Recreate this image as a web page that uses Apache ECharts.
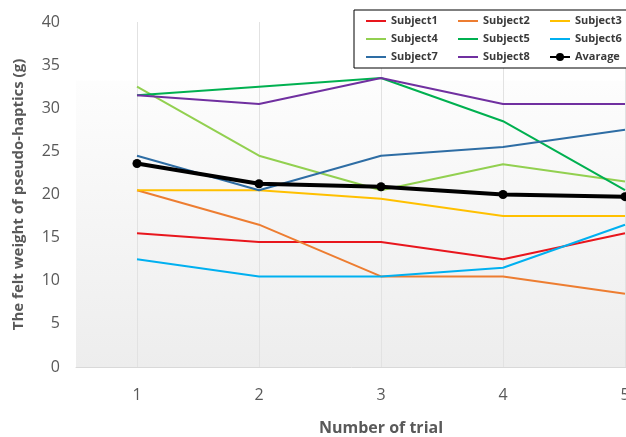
<!DOCTYPE html>
<html><head><meta charset="utf-8">
<script src="https://cdn.jsdelivr.net/npm/echarts@6/dist/echarts.min.js"></script>
<style>html,body{margin:0;padding:0;background:#fff}#c{width:626px;height:437px}</style>
</head><body><div id="c"></div>
<script>
const categories = ['1','2','3','4','5'];
const subject1 = [15.5, 14.5, 14.5, 12.5, 15.5];
const subject2 = [20.5, 16.5, 10.5, 10.5, 8.5];
const subject3 = [20.5, 20.5, 19.5, 17.5, 17.5];
const subject4 = [32.5, 24.5, 20.5, 23.5, 21.5];
const subject5 = [31.5, 32.5, 33.5, 28.5, 20.5];
const subject6 = [12.5, 10.5, 10.5, 11.5, 16.5];
const subject7 = [24.5, 20.5, 24.5, 25.5, 27.5];
const subject8 = [31.5, 30.5, 33.5, 30.5, 30.5];
const average  = [23.6, 21.25, 20.9, 20.0, 19.75];
const seriesNames = ['Subject1','Subject2','Subject3','Subject4','Subject5','Subject6','Subject7','Subject8','Avarage'];
const yTicks = [0,5,10,15,20,25,30,35,40];

const colors = ['#e8161d','#ed7d31','#ffc000','#92d050','#00b050','#00b0f0','#2e6da4','#7030a0','#000000'];
const allData = [subject1,subject2,subject3,subject4,subject5,subject6,subject7,subject8];
const FONT = '"Open Sans", "Noto Sans", sans-serif';

const series = allData.map((d,i)=>({
  name: seriesNames[i], type:'line', data:d, symbol:'none',
  lineStyle:{width:2, color:colors[i]}, itemStyle:{color:colors[i]}, z:2
}));
series.push({
  name: seriesNames[8], type:'line', data:average, symbol:'circle', symbolSize:9,
  lineStyle:{width:4, color:'#000'}, itemStyle:{color:'#000'}, z:5
});

const legendData = seriesNames.map((n,i)=> i<8
  ? {name:n, itemStyle:{opacity:0}}
  : {name:n});

const chart = echarts.init(document.getElementById('c'), null, {renderer:'canvas'});
chart.setOption({
  animation:false,
  color: colors,
  grid:{left:76, top:22, width:610, height:345, show:true, borderWidth:0,
    outerBoundsMode:'none', containLabel:false,
    backgroundColor:{type:'linear', x:0,y:0,x2:0,y2:1, colorStops:[
      {offset:0,color:'#ffffff'},{offset:0.168,color:'#ffffff'},
      {offset:0.172,color:'#fdfdfd'},{offset:1,color:'#ededed'}]}},
  legend:{
    left:354, top:10, width:280, padding:[4,0,4,11],
    itemWidth:20, itemHeight:10, itemGap:4,
    backgroundColor:'#fff', borderColor:'#000', borderWidth:1,
    data: legendData,
    textStyle:{fontFamily:FONT, fontSize:11, fontWeight:'bold', color:'#3a3a3a', width:62, lineHeight:14}
  },
  xAxis:{type:'category', data:categories, boundaryGap:true,
    name:'Number of trial', nameLocation:'middle', nameGap:53,
    nameTextStyle:{fontFamily:FONT, fontSize:16, fontWeight:'bold', color:'#595959'},
    axisLine:{lineStyle:{color:'#d9d9d9', width:1}},
    axisTick:{show:false},
    axisLabel:{fontFamily:FONT, fontSize:16, color:'#595959', margin:20},
    splitLine:{show:true, alignWithLabel:true, lineStyle:{color:'#e2e2e2', width:1}}
  },
  yAxis:{type:'value', min:0, max:40, interval:5,
    name:'The felt weight of pseudo-haptics (g)', nameLocation:'middle', nameGap:50,
    nameTextStyle:{fontFamily:FONT, fontSize:15, fontWeight:'bold', color:'#595959'},
    axisLine:{show:false}, axisTick:{show:false}, splitLine:{show:false},
    axisLabel:{fontFamily:FONT, fontSize:16, color:'#595959', margin:16,
      formatter:v=> yTicks.includes(v) ? String(v) : ''}
  },
  series: series
});
</script></body></html>
